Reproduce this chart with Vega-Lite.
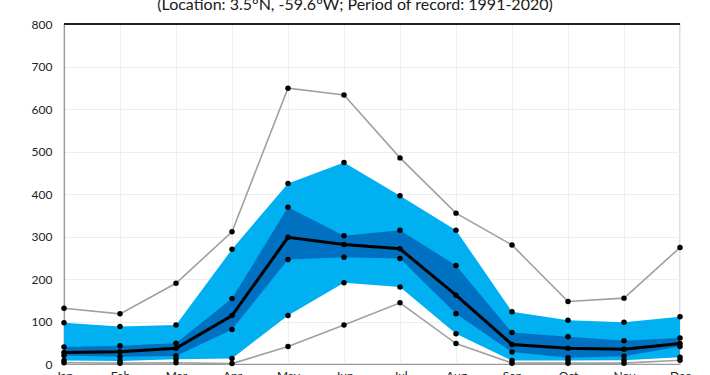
{
  "$schema": "https://vega.github.io/schema/vega-lite/v6.json",
  "width": 616,
  "height": 340,
  "autosize": "none",
  "padding": {"left": 64, "top": 24, "right": 30, "bottom": 11},
  "background": "white",
  "title": {
    "text": "(Location: 3.5°N, -59.6°W; Period of record: 1991-2020)",
    "fontSize": 16,
    "fontWeight": "normal",
    "font": "Lato",
    "color": "#1a1a1a",
    "anchor": "middle",
    "offset": 5,
    "dx": -17
  },
  "data": {
    "values": [
      {"month": "Jan", "min": 3, "p10": 8, "p25": 20, "median": 27, "p75": 40, "p90": 97, "max": 131},
      {"month": "Feb", "min": 2, "p10": 7, "p25": 17, "median": 29, "p75": 43, "p90": 88, "max": 118},
      {"month": "Mar", "min": 3, "p10": 11, "p25": 19, "median": 37, "p75": 49, "p90": 92, "max": 190},
      {"month": "Apr", "min": 1, "p10": 13, "p25": 81, "median": 114, "p75": 154, "p90": 270, "max": 311},
      {"month": "May", "min": 41, "p10": 114, "p25": 246, "median": 298, "p75": 369, "p90": 425, "max": 649},
      {"month": "Jun", "min": 92, "p10": 191, "p25": 251, "median": 281, "p75": 302, "p90": 474, "max": 633},
      {"month": "Jul", "min": 144, "p10": 181, "p25": 248, "median": 271, "p75": 315, "p90": 396, "max": 485},
      {"month": "Aug", "min": 48, "p10": 71, "p25": 118, "median": 162, "p75": 232, "p90": 315, "max": 355},
      {"month": "Sep", "min": 2, "p10": 8, "p25": 28, "median": 46, "p75": 74, "p90": 123, "max": 280},
      {"month": "Oct", "min": 2, "p10": 8, "p25": 15, "median": 37, "p75": 64, "p90": 103, "max": 147},
      {"month": "Nov", "min": 2, "p10": 9, "p25": 18, "median": 35, "p75": 55, "p90": 98, "max": 155},
      {"month": "Dec", "min": 9, "p10": 16, "p25": 41, "median": 48, "p75": 61, "p90": 111, "max": 274}
    ]
  },
  "layer": [
    {
      "mark": {"type": "area", "color": "#00B0F0", "opacity": 1},
      "encoding": {
        "x": {
          "field": "month",
          "type": "ordinal",
          "sort": ["Jan","Feb","Mar","Apr","May","Jun","Jul","Aug","Sep","Oct","Nov","Dec"],
          "scale": {"type": "point", "padding": 0},
          "axis": {"title": null, "labelAngle": 0, "ticks": false, "labelPadding": 6, "grid": true}
        },
        "y": {"field": "p10", "type": "quantitative", "scale": {"domain": [0, 800], "nice": false}, "axis": {"title": null, "values": [0,100,200,300,400,500,600,700,800]}},
        "y2": {"field": "p90"}
      }
    },
    {
      "mark": {"type": "area", "color": "#0070C0", "opacity": 1},
      "encoding": {
        "x": {"field": "month", "type": "ordinal", "sort": ["Jan","Feb","Mar","Apr","May","Jun","Jul","Aug","Sep","Oct","Nov","Dec"], "axis": {"title": null}},
        "y": {"field": "p25", "type": "quantitative", "axis": {"title": null}},
        "y2": {"field": "p75"}
      }
    },
    {
      "mark": {"type": "line", "color": "#A0A0A0", "strokeWidth": 1.6},
      "encoding": {
        "x": {"field": "month", "type": "ordinal", "sort": ["Jan","Feb","Mar","Apr","May","Jun","Jul","Aug","Sep","Oct","Nov","Dec"], "axis": {"title": null}},
        "y": {"field": "max", "type": "quantitative", "axis": {"title": null}}
      }
    },
    {
      "mark": {"type": "line", "color": "#A0A0A0", "strokeWidth": 1.6},
      "encoding": {
        "x": {"field": "month", "type": "ordinal", "sort": ["Jan","Feb","Mar","Apr","May","Jun","Jul","Aug","Sep","Oct","Nov","Dec"], "axis": {"title": null}},
        "y": {"field": "min", "type": "quantitative", "axis": {"title": null}}
      }
    },
    {
      "mark": {"type": "line", "color": "#000000", "strokeWidth": 3},
      "encoding": {
        "x": {"field": "month", "type": "ordinal", "sort": ["Jan","Feb","Mar","Apr","May","Jun","Jul","Aug","Sep","Oct","Nov","Dec"], "axis": {"title": null}},
        "y": {"field": "median", "type": "quantitative", "axis": {"title": null}}
      }
    },
    {
      "transform": [{"fold": ["min","p10","p25","median","p75","p90","max"], "as": ["stat","value"]}],
      "mark": {"type": "point", "filled": true, "color": "#000000", "size": 30, "opacity": 1},
      "encoding": {
        "x": {"field": "month", "type": "ordinal", "sort": ["Jan","Feb","Mar","Apr","May","Jun","Jul","Aug","Sep","Oct","Nov","Dec"], "axis": {"title": null}},
        "y": {"field": "value", "type": "quantitative", "axis": {"title": null}}
      }
    },
    {
      "mark": {"type": "rule", "color": "#222222", "strokeWidth": 1.2},
      "encoding": {"y": {"datum": 800}}
    }
  ],
  "config": {
    "font": "Lato",
    "view": {"stroke": "#999999", "strokeWidth": 1.2},
    "axis": {
      "labelFont": "Lato",
      "labelFontSize": 12,
      "labelColor": "#222222",
      "domainColor": "#999999",
      "domainWidth": 1.2,
      "gridColor": "#EEEEEE",
      "gridWidth": 1
    },
    "axisY": {"ticks": false, "labelPadding": 12, "grid": true}
  }
}
